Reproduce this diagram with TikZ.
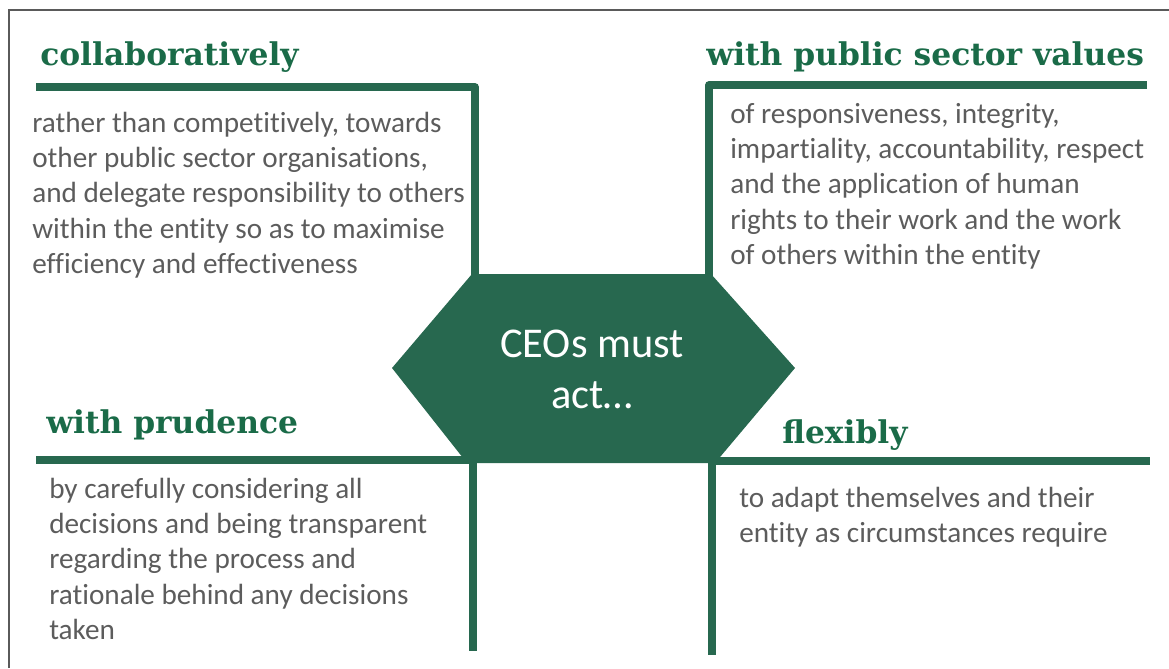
\documentclass[tikz,border=0pt]{standalone}
\usepackage{fontspec}
\setmainfont{Carlito}[Ligatures=NoCommon]
\newfontfamily\headfont{DejaVu Serif}[UprightFont=* Bold]
\definecolor{lineGreen}{HTML}{27684F}
\definecolor{headGreen}{HTML}{1A6B48}
\definecolor{bodyGray}{HTML}{5C5C5C}
\definecolor{frameGray}{HTML}{5A5A5A}
\tikzset{
  greenline/.style={draw=lineGreen, line width=5.6pt, line join=round},
  heading/.style={anchor=base west, inner sep=0pt, text=headGreen, font=\headfont\fontsize{23.5}{28}\selectfont},
  bodytext/.style={anchor=base west, inner sep=0pt, text=bodyGray},
  hexbox/.style={fill=lineGreen, draw=none},
  centertext/.style={inner sep=0pt, text=white, align=center, font=\fontsize{31.8}{38.2}\selectfont},
}
\newcommand{\bodypar}[1]{\parbox[t]{12cm}{\raggedright\fontsize{21.9}{26.5}\selectfont #1}}
\begin{document}
\begin{tikzpicture}[x=0.75pt,y=-0.75pt]
\useasboundingbox (0,0) rectangle (1169,668);
% frame
\draw[frameGray, line width=1.6pt] (9,668) -- (9,10) -- (1169,10);
% coordinates
\coordinate (tlA) at (36,87);
\coordinate (tlB) at (475,87);
\coordinate (tlC) at (475,276);
\coordinate (trA) at (1147,85);
\coordinate (trB) at (709,85);
\coordinate (trC) at (709,276);
\coordinate (blA) at (36,460);
\coordinate (blB) at (470,460);
\coordinate (blC) at (473,458);
\coordinate (blD) at (473,651);
\coordinate (brA) at (713,461);
\coordinate (brB) at (1150,461);
\coordinate (brC) at (712,459);
\coordinate (brD) at (712,655);
% L-shaped lines
\draw[greenline] (tlA) -- (tlB) -- (tlC);
\draw[greenline] (trA) -- (trB) -- (trC);
\draw[greenline, line cap=butt] (blA) -- (blB);
\draw[greenline, line cap=butt] (blC) -- (blD);
\draw[greenline, line cap=butt] (brA) -- (brB);
\draw[greenline, line cap=butt] (brC) -- (brD);
% hexagon
\coordinate (h1) at (472,274);
\coordinate (h2) at (711,274);
\coordinate (h3) at (795,368);
\coordinate (h4) at (715,463);
\coordinate (h5) at (467,463);
\coordinate (h6) at (392,368);
\path[hexbox] (h1) -- (h2) -- (h3) -- (h4) -- (h5) -- (h6) -- cycle;
\node[centertext, anchor=base] (ceo) at (592,408) {CEOs must\\act\ldots};
% headings
\node[heading] (hTL) at (40,65) {collaboratively};
\node[heading] (hTR) at (706,65) {with public sector values};
\node[heading] (hBL) at (46,433) {with prudence};
\node[heading] (hBR) at (782,443) {flexibly};
% body texts
\node[bodytext] (bTL) at (32,132) {\bodypar{rather than competitively, towards\\other public sector organisations,\\and delegate responsibility to others\\within the entity so as to maximise\\efficiency and effectiveness}};
\node[bodytext] (bTR) at (730,123) {\bodypar{of responsiveness, integrity,\\impartiality, accountability, respect\\and the application of human\\rights to their work and the work\\of others within the entity}};
\node[bodytext] (bBL) at (49,498) {\bodypar{by carefully considering all\\decisions and being transparent\\regarding the process and\\rationale behind any decisions\\taken}};
\node[bodytext] (bBR) at (739,507) {\bodypar{to adapt themselves and their\\entity as circumstances require}};
\end{tikzpicture}
\end{document}
